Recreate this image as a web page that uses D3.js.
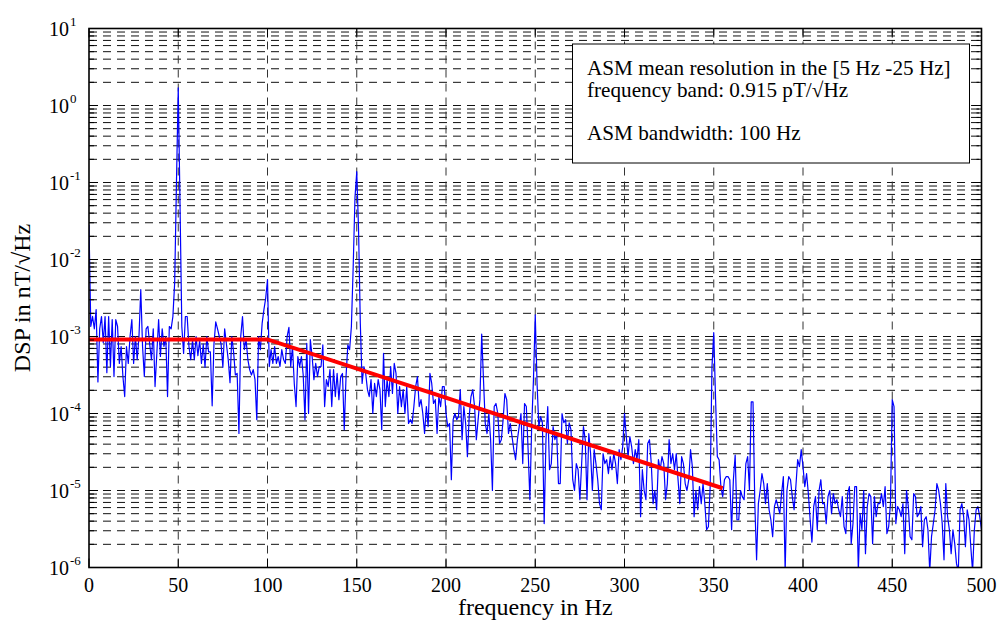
<!DOCTYPE html>
<html>
<head>
<meta charset="utf-8">
<script src="https://cdn.jsdelivr.net/npm/d3@7"></script>
<style>
body { margin: 0; background: #fff; }
svg { display: block; font-family: "Liberation Serif", "Times New Roman", serif; }
</style>
</head>
<body>
<script>
// spectrum, one bin per Hz starting at 0 Hz, stored as exponent of 10 (nT/sqrt(Hz))
var freqStep = 1;
var dspExp = [
-1.55,-2.87,-2.74,-2.9,-2.65,-3.59,-2.9,-2.74,-3.08,-2.74,
-3.47,-2.74,-3.39,-2.78,-3.52,-2.78,-2.87,-3.35,-3.13,-3.52,
-3.78,-3.13,-3.35,-3.0,-2.78,-3.35,-3.0,-3.3,-3.0,-2.39,
-3.13,-3.52,-2.9,-2.87,-3.1,-3.3,-2.9,-3.65,-3.22,-2.78,
-3.26,-2.9,-3.13,-3.0,-3.78,-2.87,-2.9,-2.74,-2.3,-1.0,
0.23,-1.3,-2.87,-3.22,-2.74,-2.74,-3.13,-3.3,-3.05,-3.3,
-3.0,-3.25,-3.05,-3.35,-3.1,-3.4,-3.0,-3.2,-3.2,-3.9,
-3.1,-2.81,-2.9,-3.0,-3.1,-3.4,-2.9,-3.1,-3.3,-3.6,
-3.0,-3.2,-3.5,-3.48,-4.26,-3.0,-2.74,-3.17,-3.04,-3.3,
-3.43,-3.5,-3.43,-3.56,-4.08,-3.0,-3.17,-2.83,-2.65,-2.5,
-2.26,-3.39,-3.17,-3.35,-3.13,-3.35,-3.26,-3.39,-3.17,-3.3,
-3.35,-3.0,-2.88,-3.39,-3.13,-3.61,-3.91,-3.26,-3.39,-3.26,
-3.5,-4.08,-3.09,-4.0,-3.04,-3.26,-3.56,-3.35,-3.52,-3.39,
-3.39,-3.11,-3.91,-3.56,-3.65,-3.43,-3.91,-3.43,-3.78,-3.48,
-3.82,-3.52,-3.48,-4.21,-3.52,-3.11,-3.17,-2.87,-2.1,-1.2,
-0.86,-1.6,-2.83,-3.61,-3.39,-3.48,-3.69,-3.78,-3.56,-4.0,
-3.61,-3.78,-3.56,-3.69,-4.21,-3.22,-3.91,-3.56,-3.78,-3.39,
-3.74,-3.35,-3.48,-4.0,-3.65,-3.91,-3.69,-4.0,-3.65,-4.13,
-4.08,-4.13,-3.91,-3.65,-3.52,-3.91,-3.82,-4.0,-4.26,-3.91,
-4.17,-3.48,-3.61,-3.87,-3.82,-4.26,-3.78,-3.91,-3.65,-3.65,
-4.0,-4.17,-4.13,-4.86,-4.08,-4.0,-4.08,-4.04,-3.69,-4.34,
-3.91,-4.13,-4.56,-4.04,-3.78,-3.69,-3.91,-4.34,-4.08,-3.82,
-2.97,-3.56,-4.13,-4.26,-4.0,-4.34,-5.0,-3.91,-3.87,-4.0,
-4.39,-4.34,-4.08,-3.74,-3.82,-4.26,-4.13,-4.3,-4.47,-4.6,
-4.34,-4.17,-4.0,-4.65,-3.87,-3.91,-4.47,-5.12,-4.17,-3.56,
-2.72,-3.6,-4.17,-4.04,-4.12,-5.43,-4.34,-3.91,-4.73,-4.65,
-4.17,-4.34,-4.26,-4.91,-4.91,-4.0,-4.12,-4.08,-4.39,-4.12,
-4.21,-4.86,-5.0,-4.65,-4.73,-5.12,-4.65,-4.17,-4.34,-5.12,
-4.26,-4.52,-5.0,-4.47,-4.65,-4.86,-5.17,-5.25,-4.52,-4.65,
-4.6,-4.78,-4.56,-4.73,-4.52,-4.65,-4.91,-4.47,-4.6,-4.43,
-4.0,-4.3,-4.56,-4.3,-4.43,-4.65,-4.47,-4.6,-4.34,-5.34,
-4.73,-5.0,-5.12,-4.39,-4.34,-4.65,-5.17,-5.0,-5.25,-4.6,
-4.73,-4.56,-4.65,-5.12,-4.91,-4.34,-4.65,-4.52,-4.73,-4.52,
-4.86,-5.17,-4.56,-4.65,-4.91,-5.0,-4.86,-4.47,-4.69,-5.34,
-5.0,-5.25,-4.95,-5.17,-4.91,-5.17,-5.51,-5.47,-4.95,-3.4,
-2.95,-3.8,-4.56,-4.6,-4.95,-5.08,-4.86,-4.82,-4.82,-4.86,
-5.51,-4.86,-4.54,-5.38,-5.38,-5.0,-5.08,-5.12,-4.65,-4.56,
-5.0,-3.85,-3.85,-5.17,-5.9,-5.17,-5.0,-4.78,-4.91,-5.17,
-4.91,-5.25,-5.38,-5.6,-5.21,-5.12,-5.21,-5.3,-5.04,-4.82,
-6.05,-5.0,-4.82,-4.86,-5.08,-5.25,-4.95,-4.6,-4.69,-4.47,
-4.69,-4.95,-4.78,-5.04,-5.38,-5.67,-5.21,-5.08,-5.51,-5.0,
-4.86,-5.17,-5.17,-5.43,-5.08,-5.0,-5.3,-5.04,-5.17,-5.12,
-5.25,-5.34,-5.08,-5.47,-5.56,-5.04,-4.95,-5.69,-5.43,-4.95,
-4.95,-6.05,-5.3,-5.51,-5.0,-5.82,-5.21,-5.04,-5.08,-5.69,
-5.08,-5.34,-5.17,-5.17,-5.04,-5.21,-4.95,-5.56,-5.47,-5.17,
-3.82,-3.91,-5.43,-5.21,-5.25,-5.34,-5.17,-5.82,-5.0,-5.21,
-5.6,-5.64,-5.04,-5.08,-5.34,-5.3,-5.21,-5.73,-5.38,-5.34,
-5.51,-6.05,-5.6,-5.43,-5.25,-4.91,-5.0,-5.17,-5.43,-5.9,
-4.91,-5.34,-5.51,-5.82,-5.51,-5.69,-5.95,-6.05,-5.25,-5.17,
-5.34,-5.73,-5.25,-5.38,-5.73,-6.05,-5.51,-5.25,-5.21,-5.34,
-5.51
];

// ASM resolution model (red)
var fitFreq = [0, 100, 355];
var fitValue = [9.15e-4, 9.15e-4, 1.07e-5];

var xTicks = [0, 50, 100, 150, 200, 250, 300, 350, 400, 450, 500];
var yExps = [-6, -5, -4, -3, -2, -1, 0, 1];
var noteLines = [
  "ASM mean resolution in the [5 Hz -25 Hz]",
  "frequency band: 0.915 pT/\u221AHz",
  "",
  "ASM bandwidth: 100 Hz"
];

var W = 1000, H = 632;
// note: "top" is reserved on window, so plot edges get their own names
var pL = 89, pR = 981.5, pT = 28.5, pB = 567.5;

var svg = d3.select("body").append("svg").attr("width", W).attr("height", H);

var x = d3.scaleLinear().domain([0, 500]).range([pL, pR]);
var y = d3.scaleLog().domain([1e-6, 1e1]).range([pB, pT]);

svg.append("defs").append("clipPath").attr("id", "plotclip")
  .append("rect").attr("x", pL).attr("y", pT)
  .attr("width", pR - pL).attr("height", pB - pT);

// grid
var minorVals = [];
for (var k = -6; k < 1; k++) {
  for (var m = 1; m <= 9; m++) minorVals.push(m * Math.pow(10, k));
}
minorVals.push(10);

var grid = svg.append("g");
grid.selectAll("line.h").data(minorVals.filter(function (v) { return v > 1.5e-6 && v < 9.9; }))
  .enter().append("line")
  .attr("x1", pL).attr("x2", pR)
  .attr("y1", function (d) { return y(d); })
  .attr("y2", function (d) { return y(d); })
  .attr("stroke", "#111").attr("stroke-width", 1)
  .attr("stroke-dasharray", "8,6");
grid.selectAll("line.v").data(xTicks.filter(function (d) { return d > 0 && d < 500; }))
  .enter().append("line")
  .attr("x1", function (d) { return x(d); })
  .attr("x2", function (d) { return x(d); })
  .attr("y1", pB).attr("y2", pT)
  .attr("stroke", "#333").attr("stroke-width", 1)
  .attr("stroke-dasharray", "8,6");

// data
var spec = dspExp.map(function (e, i) { return { f: i * freqStep, v: Math.pow(10, e) }; });
var line = d3.line().x(function (d) { return x(d.f); }).y(function (d) { return y(d.v); });

var plot = svg.append("g").attr("clip-path", "url(#plotclip)");
plot.append("path").datum(spec)
  .attr("d", line)
  .attr("fill", "none").attr("stroke", "#0000ff").attr("stroke-width", 1.2)
  .attr("stroke-linejoin", "round");

var fit = fitFreq.map(function (f, i) { return { f: f, v: fitValue[i] }; });
plot.append("path").datum(fit)
  .attr("d", line)
  .attr("fill", "none").attr("stroke", "#ff0000").attr("stroke-width", 4);

// ticks
var ticks = svg.append("g").attr("stroke", "#000").attr("stroke-width", 1);
xTicks.forEach(function (t) {
  ticks.append("line").attr("x1", x(t)).attr("x2", x(t)).attr("y1", pB).attr("y2", pB - 9);
  ticks.append("line").attr("x1", x(t)).attr("x2", x(t)).attr("y1", pT).attr("y2", pT + 9);
});
minorVals.forEach(function (v) {
  var major = Math.abs(Math.log10(v) - Math.round(Math.log10(v))) < 1e-9;
  var len = major ? 9 : 5;
  ticks.append("line").attr("x1", pL).attr("x2", pL + len).attr("y1", y(v)).attr("y2", y(v));
  ticks.append("line").attr("x1", pR).attr("x2", pR - len).attr("y1", y(v)).attr("y2", y(v));
});

// frame
svg.append("rect").attr("x", pL).attr("y", pT)
  .attr("width", pR - pL).attr("height", pB - pT)
  .attr("fill", "none").attr("stroke", "#000").attr("stroke-width", 1.6);

// tick labels
svg.selectAll("text.xl").data(xTicks).enter().append("text")
  .attr("x", function (d) { return x(d); })
  .attr("y", 592)
  .attr("text-anchor", "middle")
  .attr("font-size", 20)
  .text(function (d) { return d; });

yExps.forEach(function (e) {
  var yy = y(Math.pow(10, e));
  svg.append("text").attr("x", 69).attr("y", yy + 7)
    .attr("text-anchor", "end").attr("font-size", 20).text("10");
  svg.append("text").attr("x", 70).attr("y", yy - 3)
    .attr("font-size", 13).text(e);
});

// axis titles
svg.append("text").attr("x", (pL + pR) / 2).attr("y", 615)
  .attr("text-anchor", "middle").attr("font-size", 24)
  .text("frequency in Hz");
svg.append("text")
  .attr("transform", "translate(30," + ((pT + pB) / 2) + ") rotate(-90)")
  .attr("text-anchor", "middle").attr("font-size", 24)
  .text("DSP in nT/\u221AHz");

// annotation box
svg.append("rect").attr("x", 572.5).attr("y", 44)
  .attr("width", 397).attr("height", 119)
  .attr("fill", "#fff").attr("stroke", "#000").attr("stroke-width", 1);
noteLines.forEach(function (s, i) {
  svg.append("text").attr("x", 587).attr("y", 75 + i * 21.7)
    .attr("font-size", 21.2).text(s);
});
</script>
</body>
</html>
